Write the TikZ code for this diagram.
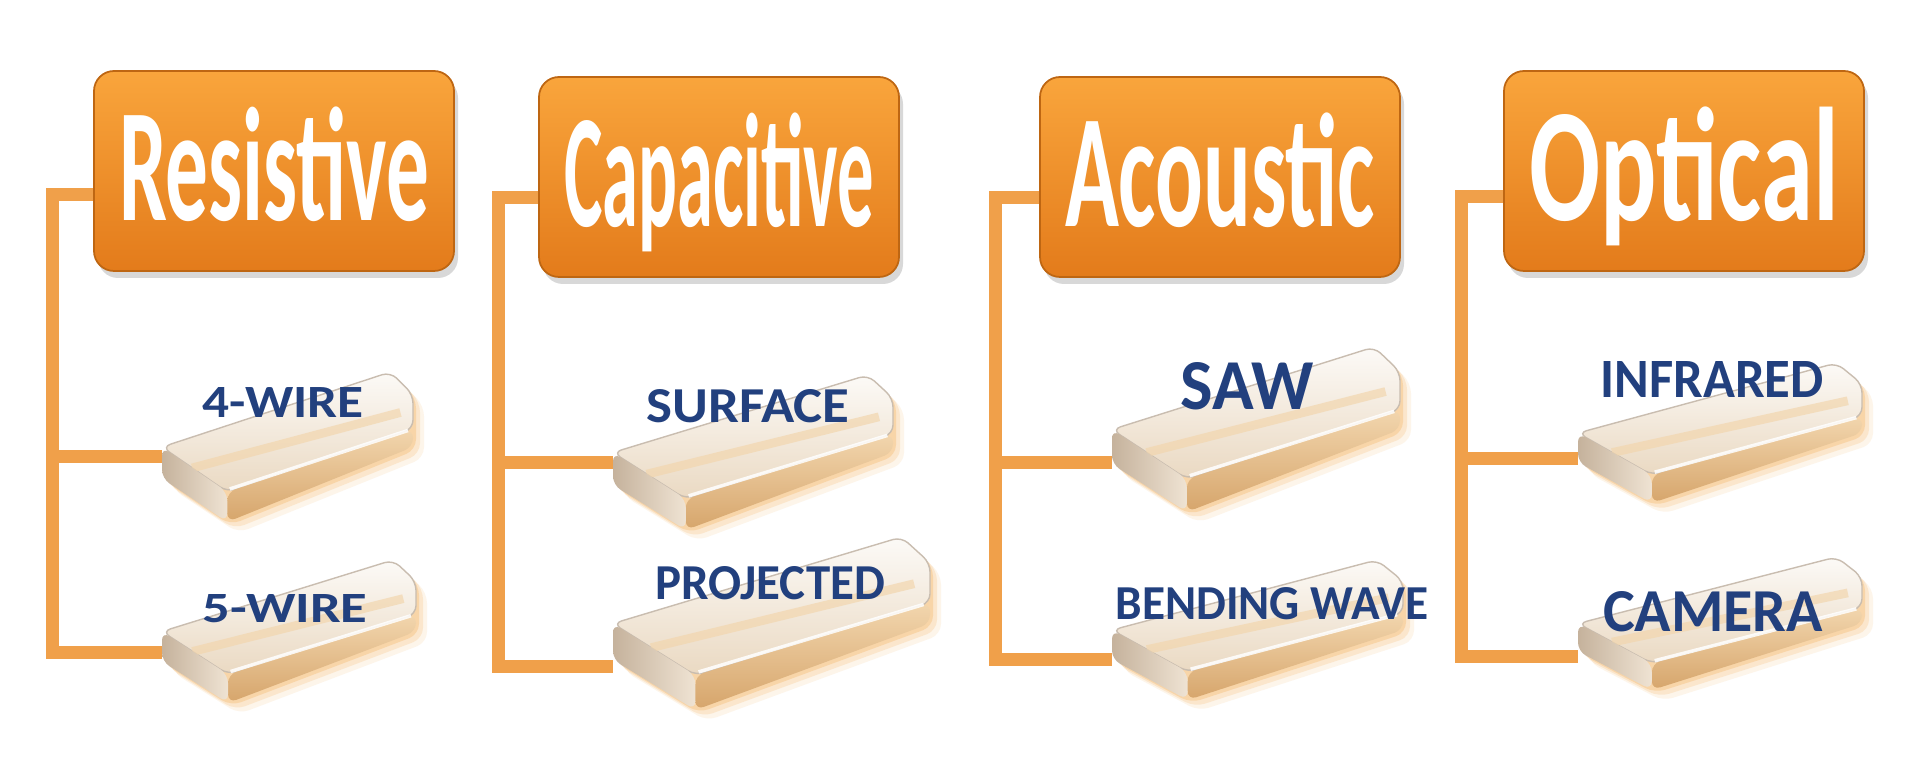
\documentclass[tikz,border=0pt]{standalone}
\usepackage{fontspec}
\setmainfont{Carlito}
\usepackage{graphicx}
\usetikzlibrary{shadows}

\definecolor{hdrtop}{HTML}{F9A53C}
\definecolor{hdrbot}{HTML}{E37B1B}
\definecolor{hdredge}{HTML}{BE6612}
\definecolor{branchcol}{HTML}{F0A04A}
\definecolor{lblcol}{HTML}{22407E}
\definecolor{glasstop}{HTML}{FCFAF7}
\definecolor{glassmid}{HTML}{EAD9C2}
\definecolor{frontlt}{HTML}{F2D6AE}
\definecolor{frontdk}{HTML}{D6A56B}
\definecolor{sidelt}{HTML}{EFE3D3}
\definecolor{sidedk}{HTML}{C5B29C}
\definecolor{rimcol}{HTML}{C9BDB0}
\definecolor{glow}{HTML}{F4AE58}

\newcommand{\hdrtext}[1]{\resizebox{3.1cm}{\height}{#1}}
\newcommand{\lbltext}[3]{\resizebox{#1}{#2}{#3}}

% glass tile: name, left x, bottom y, width, height, branch y
\newcommand{\tile}[6]{%
  \begin{scope}[shift={(#2,#3)}]
    \pgfmathsetmacro\tlw{#4}\pgfmathsetmacro\tlh{#5}
    \foreach \d/\o in {11/.12,7/.2,3/.3}
      \fill[glow, opacity=\o, rounded corners=3pt, shift={(\d,\d)}]
        (0,{-.5*\tlh}) -- ({.91*\tlw},{-\tlh}) -- (\tlw,{-.85*\tlh}) -- (\tlw,{-.5*\tlh})
        -- ({.26*\tlw},0) -- (0,{-.29*\tlh}) -- cycle;
    \shade[top color=glasstop, bottom color=glassmid, rounded corners=2.5pt, draw=rimcol, line width=.4pt]
      (0,{-.5*\tlh}) -- ({.91*\tlw},{-\tlh}) -- (\tlw,{-.85*\tlh}) -- (\tlw,{-.62*\tlh})
      -- ({.26*\tlw},{-.2*\tlh}) -- cycle;
    \draw[frontlt, line width=2.5pt, opacity=.7] ({.12*\tlw},{-.36*\tlh}) -- ({.95*\tlw},{-.73*\tlh});
    \shade[top color=frontlt, bottom color=frontdk, rounded corners=2.5pt]
      ({.26*\tlw},{-.2*\tlh}) -- (\tlw,{-.62*\tlh}) -- (\tlw,{-.5*\tlh}) -- ({.26*\tlw},0) -- cycle;
    \shade[left color=sidedk, right color=sidelt, rounded corners=2.5pt]
      (0,{-.29*\tlh}) -- (0,{-.5*\tlh}) -- ({.26*\tlw},{-.2*\tlh}) -- ({.26*\tlw},0) -- cycle;
    \draw[white, line width=1pt, opacity=.85] ({.27*\tlw},{-.22*\tlh}) -- ({.98*\tlw},{-.61*\tlh});
  \end{scope}
  \coordinate (#1-L) at (#2,#6);
}

\tikzset{
  hdr/.style={rectangle, rounded corners=2mm, minimum width=3.6cm, minimum height=2cm,
    top color=hdrtop, bottom color=hdrbot, draw=hdredge, line width=.5pt,
    text=white, font=\bfseries\fontsize{46}{46}\selectfont, text height=1cm, text depth=0pt,
    drop shadow={opacity=.3, shadow xshift=.4mm, shadow yshift=-.7mm}},
  lbl/.style={anchor=base, inner sep=0pt, text=lblcol, font=\bfseries\fontsize{20}{20}\selectfont},
  branch/.style={draw=branchcol, line width=1.3mm, line join=miter}
}

\begin{document}
\begin{tikzpicture}[x=0.1mm, y=-0.1mm]
\fill[white] (0,0) rectangle (1920,765);
\useasboundingbox (0,0) rectangle (1920,765);

\node[hdr] (res) at (274,171) {\hdrtext{Resistive}};
\node[hdr] (cap) at (719,177) {\hdrtext{Capacitive}};
\node[hdr] (aco) at (1220,177) {\hdrtext{Acoustic}};
\node[hdr] (opt) at (1684,171) {\hdrtext{Optical}};

\tile{wire4}{162}{522}{251}{150}{457}
\tile{wire5}{162}{703}{254}{143}{653}
\tile{surf}{613}{530}{280}{155}{463}
\tile{proj}{613}{710}{317}{173}{667}
\tile{saw}{1112}{512}{288}{165}{463}
\tile{bend}{1112}{700}{291}{140}{660}
\tile{infra}{1578}{503}{284}{140}{459}
\tile{cam}{1578}{690}{284}{133}{657}

\node[lbl] (wire4-t) at (283,418) {\lbltext{1.61cm}{.30cm}{4-WIRE}};
\node[lbl] (wire5-t) at (285,623) {\lbltext{1.65cm}{.28cm}{5-WIRE}};
\node[lbl] (surf-t) at (748,423) {\lbltext{2.03cm}{.33cm}{SURFACE}};
\node[lbl] (proj-t) at (770,600) {\lbltext{2.30cm}{.33cm}{PROJECTED}};
\node[lbl] (saw-t) at (1247,410) {\lbltext{1.33cm}{.47cm}{SAW}};
\node[lbl] (bend-t) at (1272,620) {\lbltext{3.13cm}{.32cm}{BENDING WAVE}};
\node[lbl] (infra-t) at (1712,398) {\lbltext{2.23cm}{.36cm}{INFRARED}};
\node[lbl] (cam-t) at (1713,632) {\lbltext{2.20cm}{.40cm}{CAMERA}};

\coordinate (res-trunk) at (52,195);
\coordinate (cap-trunk) at (498,198);
\coordinate (aco-trunk) at (995,198);
\coordinate (opt-trunk) at (1461,197);

\draw[branch] (res.west |- res-trunk) -- (res-trunk) |- (wire4-L);
\draw[branch] (res-trunk) |- (wire5-L);
\draw[branch] (cap.west |- cap-trunk) -- (cap-trunk) |- (surf-L);
\draw[branch] (cap-trunk) |- (proj-L);
\draw[branch] (aco.west |- aco-trunk) -- (aco-trunk) |- (saw-L);
\draw[branch] (aco-trunk) |- (bend-L);
\draw[branch] (opt.west |- opt-trunk) -- (opt-trunk) |- (infra-L);
\draw[branch] (opt-trunk) |- (cam-L);
\end{tikzpicture}
\end{document}
